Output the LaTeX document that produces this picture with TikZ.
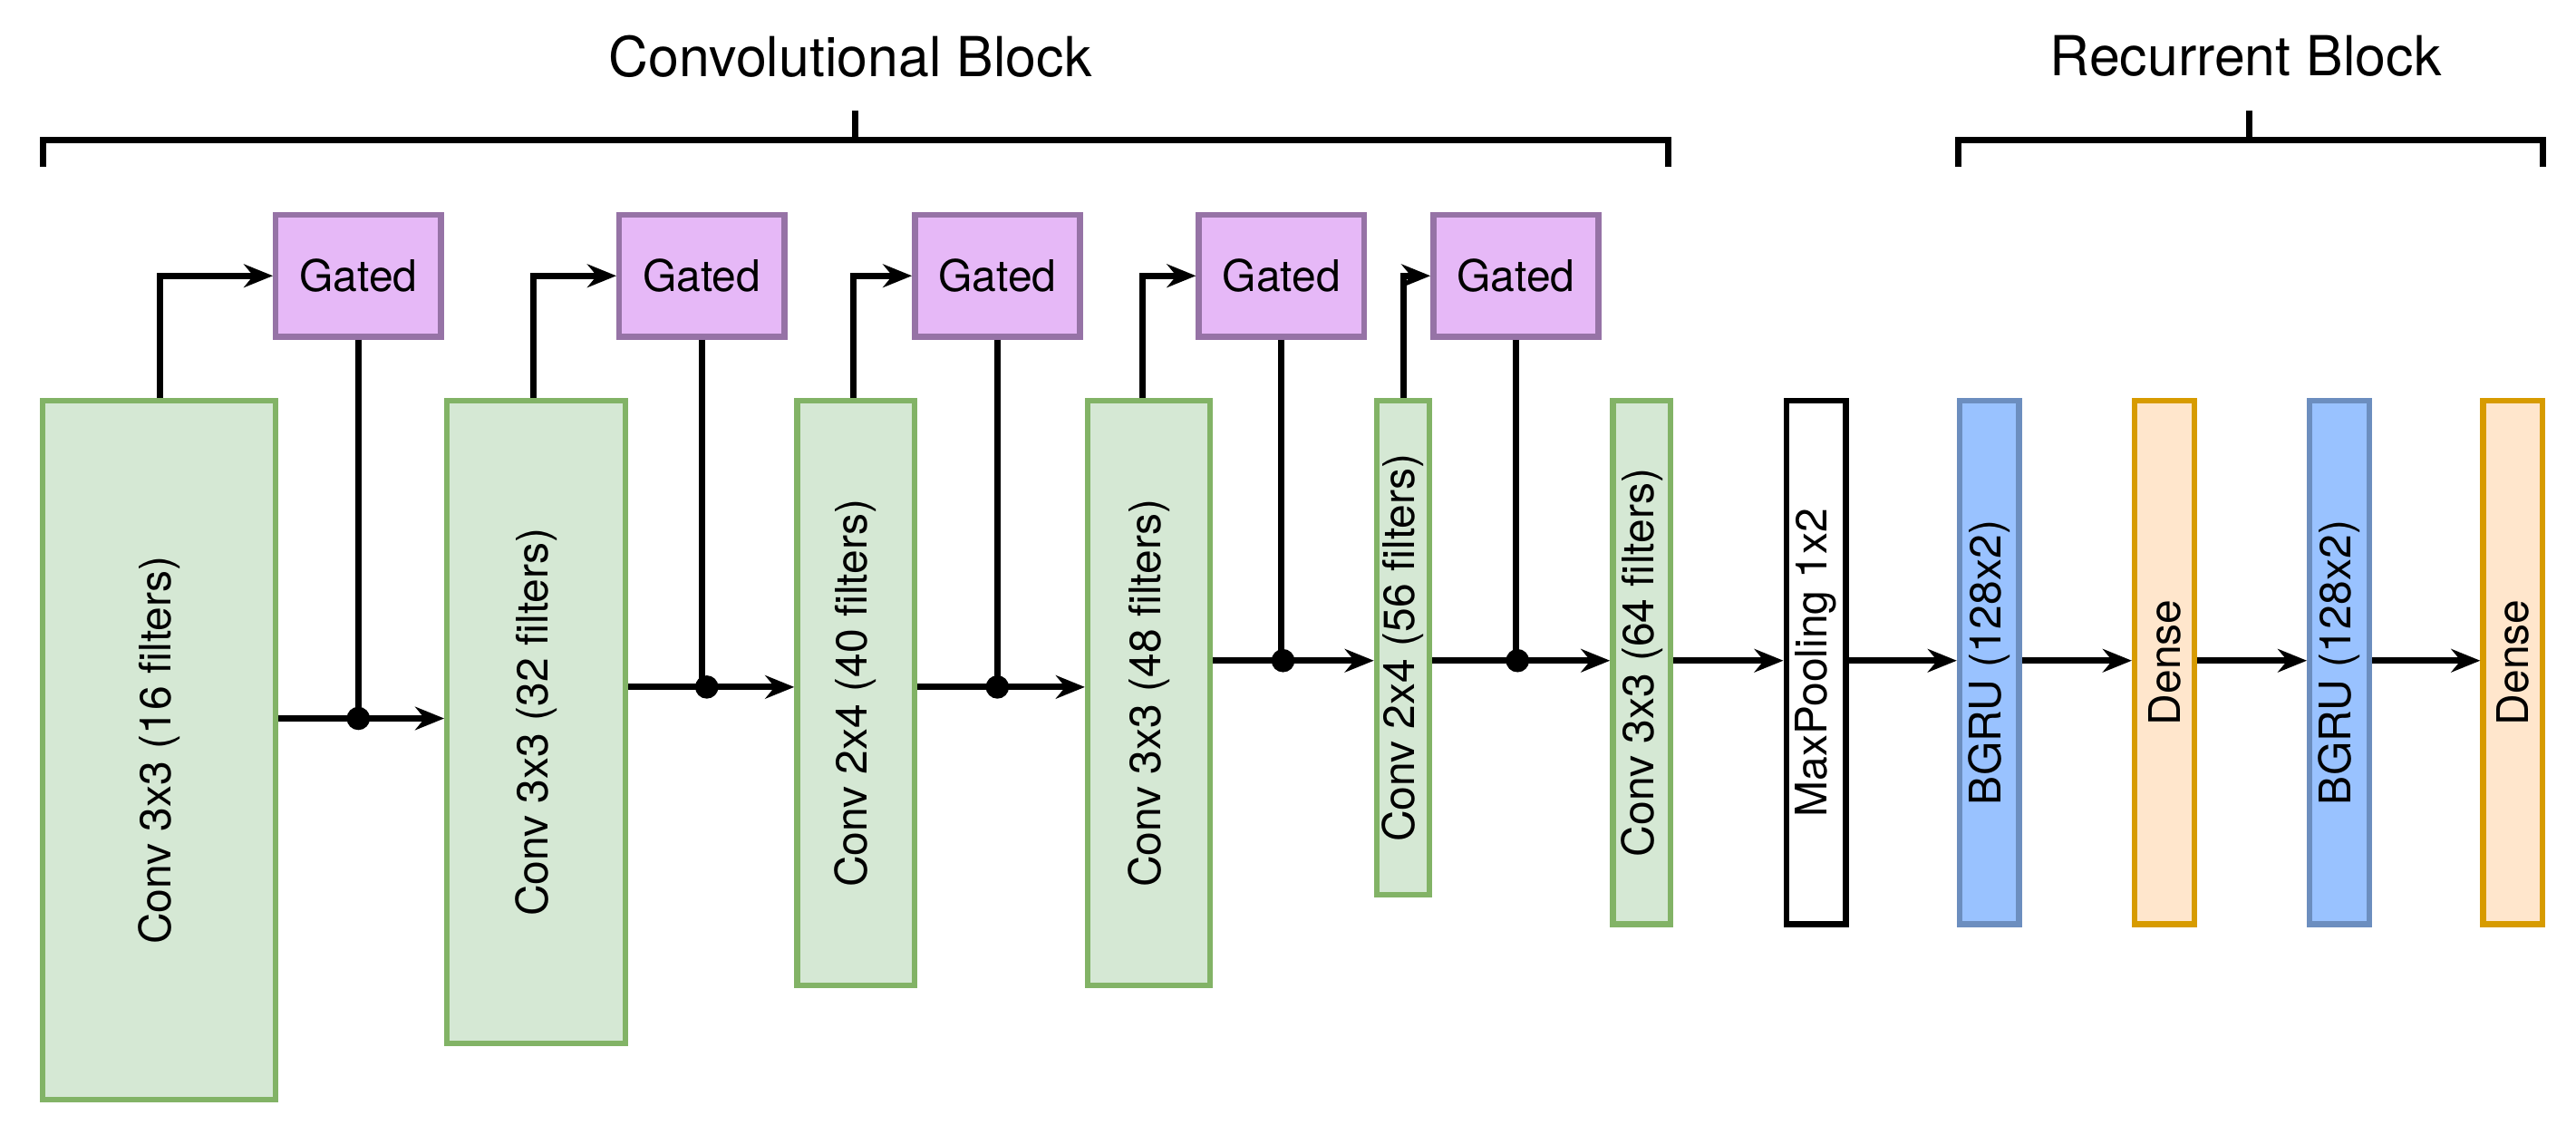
\documentclass[tikz,border=0pt]{standalone}
\usepackage{fontspec}
\setmainfont{TeX Gyre Heros}
\usetikzlibrary{arrows.meta}
\definecolor{gfill}{HTML}{D5E8D4}\definecolor{gline}{HTML}{82B366}
\definecolor{pfill}{HTML}{E6B8F7}\definecolor{pline}{HTML}{9673A6}
\definecolor{bfill}{HTML}{99C2FF}\definecolor{bline}{HTML}{6C8EBF}
\definecolor{ofill}{HTML}{FFE6CC}\definecolor{oline}{HTML}{D79B00}
\begin{document}
\begin{tikzpicture}[x=0.02cm,y=-0.02cm,
  box/.style={draw,line width=2pt,anchor=north west,inner sep=0pt,font=\fontsize{15}{18}\selectfont},
  conv/.style={box,fill=gfill,draw=gline},
  gated/.style={box,fill=pfill,draw=pline,minimum width=2cm,minimum height=1.48cm,anchor=center},
  thin/.style={box,minimum width=0.72cm,minimum height=6.34cm},
  rt/.style={rotate=90},
  arr/.style={line width=2.2pt,-{Stealth[length=10pt,width=8pt]}},
  ln/.style={line width=2.2pt},
  dot/.style={circle,fill=black,inner sep=0pt,minimum size=8pt}]
\useasboundingbox (0,0) rectangle (1560,681);
\node[conv,minimum width=2.82cm,minimum height=8.46cm] (c1) at (24,241) {};
\node[rt,font=\fontsize{15}{18}\selectfont] at (c1.center) {Conv 3x3 (16 filters)};
\node[conv,minimum width=2.16cm,minimum height=7.78cm] (c2) at (269,241) {};
\node[rt,font=\fontsize{15}{18}\selectfont] at (c2.center) {Conv 3x3 (32 filters)};
\node[conv,minimum width=1.42cm,minimum height=7.08cm] (c3) at (481,241) {};
\node[rt,font=\fontsize{15}{18}\selectfont] at (c3.center) {Conv 2x4 (40 filters)};
\node[conv,minimum width=1.48cm,minimum height=7.08cm] (c4) at (657,241) {};
\node[rt,font=\fontsize{15}{18}\selectfont] at (c4.center) {Conv 3x3 (48 filters)};
\node[conv,minimum width=0.64cm,minimum height=5.98cm] (c5) at (832,241) {};
\node[rt,font=\fontsize{15}{18}\selectfont] at (c5.center) {Conv 2x4 (56 filters)};
\node[conv,minimum width=0.70cm,minimum height=6.34cm] (c6) at (975,241) {};
\node[rt,font=\fontsize{15}{18}\selectfont] at (c6.center) {Conv 3x3 (64 filters)};
\node[thin,fill=white,draw=black] (mp) at (1080,241) {};
\node[rt,font=\fontsize{15}{18}\selectfont] at (mp.center) {MaxPooling 1x2};
\node[thin,fill=bfill,draw=bline] (b1) at (1185,241) {};
\node[rt,font=\fontsize{15}{18}\selectfont] at (b1.center) {BGRU (128x2)};
\node[thin,fill=ofill,draw=oline] (d1) at (1291,241) {};
\node[rt,font=\fontsize{15}{18}\selectfont] at (d1.center) {Dense};
\node[thin,fill=bfill,draw=bline] (b2) at (1397,241) {};
\node[rt,font=\fontsize{15}{18}\selectfont] at (b2.center) {BGRU (128x2)};
\node[thin,fill=ofill,draw=oline] (d2) at (1502,241) {};
\node[rt,font=\fontsize{15}{18}\selectfont] at (d2.center) {Dense};
\node[gated] (g1) at (217,167) {Gated};
\node[gated] (g2) at (425,167) {Gated};
\node[gated] (g3) at (604,167) {Gated};
\node[gated] (g4) at (776,167) {Gated};
\node[gated] (g5) at (918,167) {Gated};
\coordinate (t1) at (97,241);\coordinate (t2) at (323,241);\coordinate (t3) at (517,241);
\coordinate (t4) at (692,241);\coordinate (t5) at (850,241);
\node[dot] (j1) at (217,435) {};\node[dot] (j2) at (428,416) {};\node[dot] (j3) at (604,416) {};
\node[dot] (j4) at (777,400) {};\node[dot] (j5) at (919,400) {};
\foreach \t/\g in {t1/g1,t2/g2,t3/g3,t4/g4,t5/g5}{\draw[arr] (\t) |- (\g.west);}
\foreach \g/\j in {g1/j1,g2/j2,g3/j3,g4/j4,g5/j5}{\draw[ln] (\g.south) -- (\g.south |- \j);}
\draw[arr] (c1.east |- j1) -- (c2.west |- j1);
\draw[arr] (c2.east |- j2) -- (c3.west |- j2);
\draw[arr] (c3.east |- j3) -- (c4.west |- j3);
\draw[arr] (c4.east |- j4) -- (c5.west |- j4);
\draw[arr] (c5.east |- j5) -- (c6.west |- j5);
\foreach \a/\b in {c6/mp,mp/b1,b1/d1,d1/b2,b2/d2}{\draw[arr] (\a.east |- j5) -- (\b.west |- j5);}
\draw[ln] (26,101) -- (26,85) -- (1010,85) -- (1010,101);
\draw[ln] (518,85) -- (518,67);
\draw[ln] (1186,101) -- (1186,85) -- (1540,85) -- (1540,101);
\draw[ln] (1362,85) -- (1362,67);
\node[font=\fontsize{19}{22}\selectfont] (tc) at (515,34) {Convolutional Block};
\node[font=\fontsize{19}{22}\selectfont] (tr) at (1360,34) {Recurrent Block};
\end{tikzpicture}
\end{document}
